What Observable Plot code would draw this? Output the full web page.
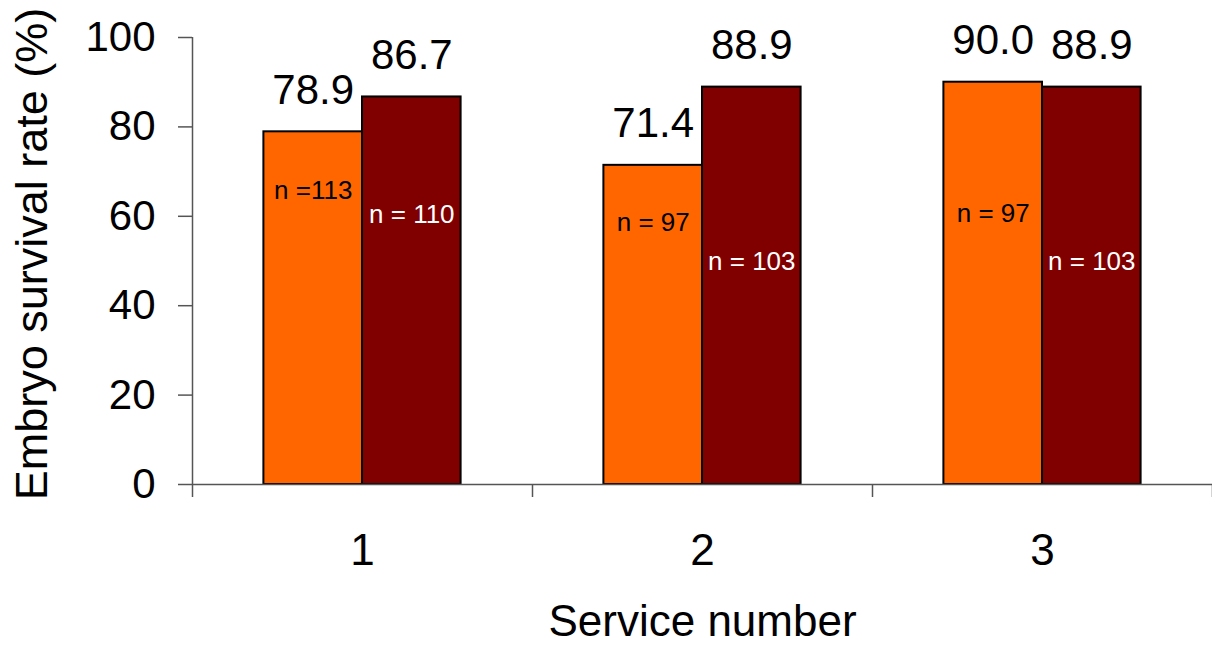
<!DOCTYPE html>
<html>
<head>
<meta charset="utf-8">
<script src="https://cdn.jsdelivr.net/npm/d3@7"></script>
<script src="https://cdn.jsdelivr.net/npm/@observablehq/plot@0.6"></script>
<style>
  html, body { margin: 0; padding: 0; background: #fff; }
  #chart svg { display: block; font-family: "Liberation Sans", Arial, sans-serif; }
</style>
</head>
<body>
<div id="chart"></div>
<script>
// ---- data ----
const services = [1, 2, 3];
const seriesA = [78.9, 71.4, 90.0];          // orange bars
const seriesB = [86.7, 88.9, 88.9];          // dark red bars
const nLabelsA = ["n =113", "n = 97", "n = 97"];
const nLabelsB = ["n = 110", "n = 103", "n = 103"];
const yTicks = [0, 20, 40, 60, 80, 100];
const yTitle = "Embryo survival rate (%)";
const xTitle = "Service number";

// ---- annotation placement (y value where the n label sits) ----
const nPosA = [65.8, 58.5, 60.6];
const nPosB = [60.4, 49.8, 49.9];

// ---- layout constants ----
const half = 0.29; // bar width in category units
const colorA = "#FF6600";
const colorB = "#800000";

const rowsA = services.map((s, i) => ({s, v: seriesA[i], n: nLabelsA[i], p: nPosA[i]}));
const rowsB = services.map((s, i) => ({s, v: seriesB[i], n: nLabelsB[i], p: nPosB[i]}));
const bounds = [services[0] - 0.5, ...services.map(s => s + 0.5)];

const chart = Plot.plot({
  width: 1212,
  height: 646,
  marginLeft: 192,
  marginRight: 0,
  marginTop: 37,
  marginBottom: 162,
  style: {fontFamily: "'Liberation Sans', Arial, sans-serif", background: "#fff", overflow: "visible"},
  x: {type: "linear", domain: [0.5, 3.5], axis: null},
  y: {domain: [0, 100], axis: null},
  marks: [
    // bars
    Plot.rectY(rowsA, {x1: d => d.s - half, x2: d => d.s, y: "v", fill: colorA, stroke: "#000", strokeWidth: 2}),
    Plot.rectY(rowsB, {x1: d => d.s, x2: d => d.s + half, y: "v", fill: colorB, stroke: "#000", strokeWidth: 2}),
    // axes lines
    Plot.ruleY([0], {stroke: "#555", strokeWidth: 1.5}),
    Plot.ruleX([bounds[0]], {stroke: "#555", strokeWidth: 1.5}),
    // y axis
    Plot.axisY({ticks: yTicks, tickSize: 14, tickPadding: 23, fontSize: 42, stroke: "#555", strokeWidth: 1.5, color: "#000", label: null}),
    // x boundary ticks
    Plot.axisX({ticks: bounds, tickSize: 13, tickFormat: () => "", stroke: "#555", strokeWidth: 1.5, label: null}),
    // x labels
    Plot.axisX({ticks: services, tickSize: 0, tickPadding: 49, fontSize: 44, tickFormat: d => String(d), color: "#000", label: null}),
    // value labels
    Plot.text(rowsA, {x: d => d.s - half / 2, y: "v", text: d => d.v.toFixed(1), lineAnchor: "bottom", dy: -28, fontSize: 42, fill: "#000"}),
    Plot.text(rowsB, {x: d => d.s + half / 2, y: "v", text: d => d.v.toFixed(1), lineAnchor: "bottom", dy: -28, fontSize: 42, fill: "#000"}),
    // n labels
    Plot.text(rowsA, {x: d => d.s - half / 2, y: "p", text: "n", fontSize: 26, fill: "#000"}),
    Plot.text(rowsB, {x: d => d.s + half / 2, y: "p", text: "n", fontSize: 26, fill: "#fff"}),
    // axis titles
    Plot.text([yTitle], {frameAnchor: "left", textAnchor: "middle", lineAnchor: "middle", rotate: -90, dx: -160, dy: -7, fontSize: 45, fill: "#000"}),
    Plot.text([xTitle], {frameAnchor: "bottom", textAnchor: "middle", lineAnchor: "middle", dy: 137, fontSize: 44, fill: "#000"})
  ]
});
document.getElementById("chart").appendChild(chart);
</script>
</body>
</html>
